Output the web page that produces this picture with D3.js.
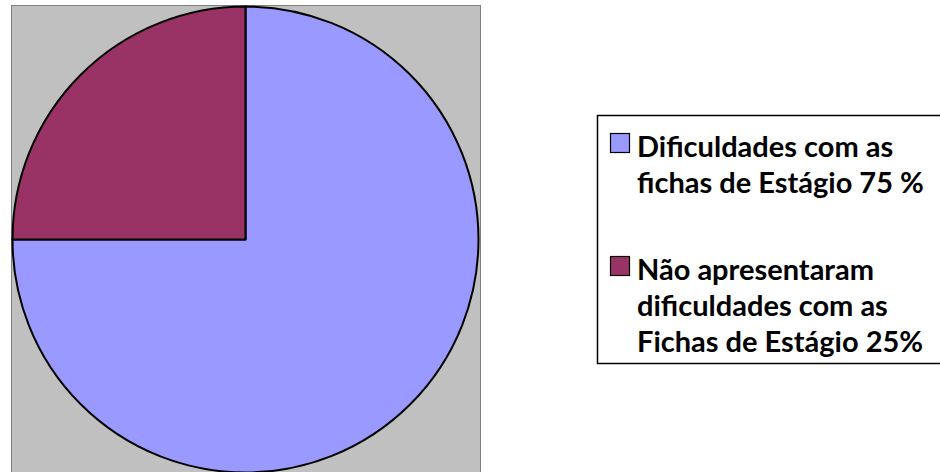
<!DOCTYPE html>
<html lang="pt">
<head>
  <meta charset="UTF-8" />
  <script src="https://d3js.org/d3.v7.min.js"></script>
  <style>
    body { margin: 0; background: #fff; }
  </style>
</head>
<body>
  <div id="chart"></div>
  <script>
    // data
    const categories = ["Dificuldades com as fichas de Estágio 75 %", "Não apresentaram dificuldades com as Fichas de Estágio 25%"];
    const values = [75, 25];
    const colors = ["#9999FF", "#993366"];
    const legendLines = [
      ["Dificuldades com as", "fichas de Estágio 75 %"],
      ["Não apresentaram", "dificuldades com as", "Fichas de Estágio 25%"]
    ];

    const W = 940, H = 472;
    const svg = d3.select("#chart").append("svg").attr("width", W).attr("height", H);

    // plot area
    svg.append("rect")
      .attr("x", 11.5).attr("y", 5.5).attr("width", 469).attr("height", 480)
      .attr("fill", "#C0C0C0").attr("stroke", "#808080").attr("stroke-width", 1);

    const cx = 245.5, cy = 239.5, r = 233;
    const pie = d3.pie().sort(null).value(d => d);
    const arc = d3.arc().innerRadius(0).outerRadius(r);

    svg.append("g").attr("transform", `translate(${cx},${cy})`)
      .selectAll("path")
      .data(pie(values)).enter().append("path")
      .attr("d", arc)
      .attr("fill", (d, i) => colors[i])
      .attr("stroke", "#000").attr("stroke-width", 2).attr("stroke-linejoin", "round");

    // legend
    const lg = svg.append("g");
    lg.append("rect")
      .attr("x", 597.5).attr("y", 115.5).attr("width", 400).attr("height", 248)
      .attr("fill", "#fff").attr("stroke", "#000").attr("stroke-width", 1.5);

    const lineH = 36;
    const firstBase = [157, 280];
    legendLines.forEach((lines, i) => {
      lg.append("rect")
        .attr("x", 610.5).attr("y", firstBase[i] - 23.5).attr("width", 19).attr("height", 19)
        .attr("fill", colors[i]).attr("stroke", "#000").attr("stroke-width", 1.2);
      lines.forEach((t, j) => {
        lg.append("text")
          .attr("x", 637).attr("y", firstBase[i] + j * lineH)
          .attr("font-family", "Lato, 'Open Sans', sans-serif")
          .attr("font-weight", "bold").attr("font-size", 29)
          .attr("fill", "#000")
          .text(t);
      });
    });
  </script>
</body>
</html>
